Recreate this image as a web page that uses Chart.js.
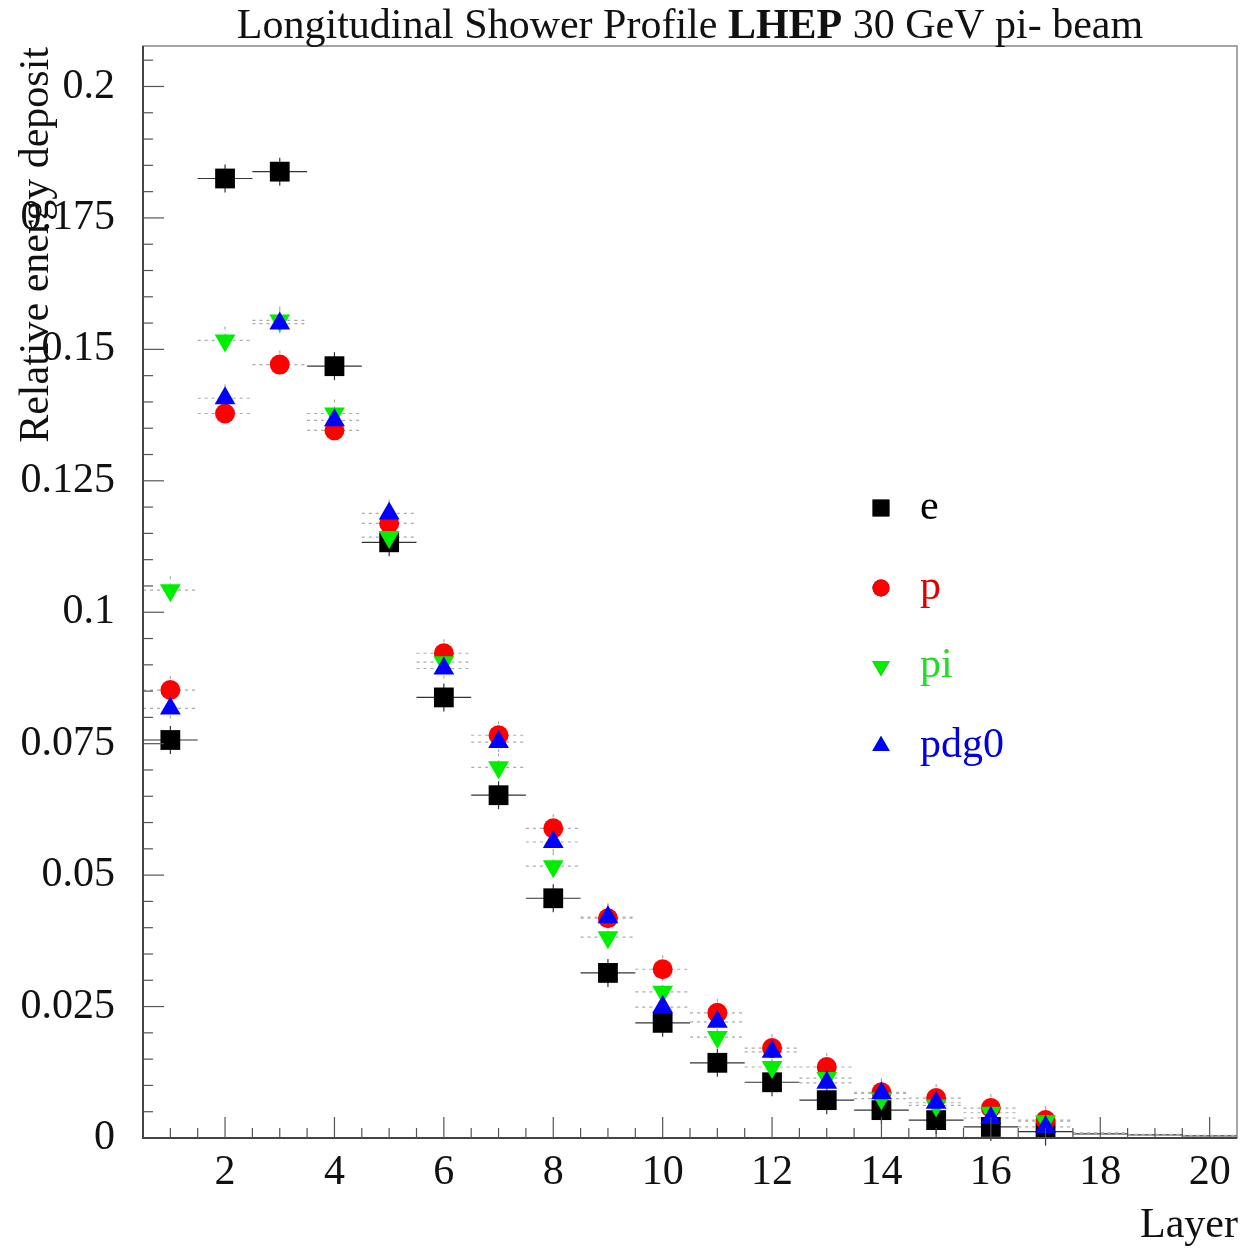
<!DOCTYPE html>
<html>
<head>
<meta charset="utf-8">
<script src="https://cdn.jsdelivr.net/npm/chart.js@4.4.0/dist/chart.umd.min.js"></script>
<style>
    html, body { margin: 0; padding: 0; background: #fff; }
    canvas { display: block; }
</style>
</head>
<body>
<canvas id="showerChart" width="1243" height="1251" style="width:1243px;height:1251px"></canvas>
<script>
// Data
const layers = [1, 2, 3, 4, 5, 6, 7, 8, 9, 10, 11, 12, 13, 14, 15, 16, 17, 18, 19, 20];
const eVals = [0.0757, 0.1825, 0.1838, 0.1468, 0.1133, 0.0838, 0.0652, 0.0456, 0.0314, 0.0219,
               0.0143, 0.0106, 0.0072, 0.0053, 0.0034, 0.0021, 0.0012, 0.0008, 0.0006, 0.0004];
const pVals = [0.0852, 0.1378, 0.1471, 0.1346, 0.1169, 0.0922, 0.0766, 0.0589, 0.0418, 0.0321,
               0.0238, 0.0171, 0.0135, 0.0087, 0.0076, 0.0057, 0.0034, 0.0010, 0.0007, 0.0005];
const piVals = [0.1042, 0.1517, 0.1555, 0.1378, 0.1143, 0.0905, 0.0705, 0.0517, 0.0382, 0.0278,
                0.0192, 0.0135, 0.0114, 0.0075, 0.0062, 0.0048, 0.0032, 0.0009, 0.0006, 0.0004];
const pdg0Vals = [0.0817, 0.1407, 0.1549, 0.1365, 0.1188, 0.0893, 0.0753, 0.0563, 0.0420, 0.0249,
                  0.0221, 0.0164, 0.0105, 0.0085, 0.0067, 0.0038, 0.0021, 0.0009, 0.0006, 0.0004];
const seriesNames = ['e', 'p', 'pi', 'pdg0'];
const yTicks = [0, 0.025, 0.05, 0.075, 0.1, 0.125, 0.15, 0.175, 0.2];
const xTicks = [2, 4, 6, 8, 10, 12, 14, 16, 18, 20];
const titleParts = ['Longitudinal Shower Profile ', 'LHEP', ' 30 GeV pi- beam'];
const xTitle = 'Layer';
const yTitle = 'Relative energy deposit';

const FONT = '"Liberation Serif", "DejaVu Serif", serif';
const lastMarkedLayer = 17;

function toPoints(vals) {
    return layers.map((l, i) => ({ x: l, y: vals[i] }));
}

function markerSize(r) {
    return ctx => (layers[ctx.dataIndex] > lastMarkedLayer ? 0 : r);
}

const styles = [
    { color: '#000000', text: '#000000', shape: 'rect', r: 14, rot: 0, bar: '#333333', dash: [] },
    { color: '#ff0000', text: '#e00000', shape: 'circle', r: 10, rot: 0, bar: '#aaaaaa', dash: [3, 4] },
    { color: '#00ee00', text: '#22dd22', shape: 'triangle', r: 12, rot: 180, bar: '#aaaaaa', dash: [3, 4] },
    { color: '#0000ff', text: '#0000dd', shape: 'triangle', r: 12, rot: 0, bar: '#aaaaaa', dash: [3, 4] }
];

const allVals = [eVals, pVals, piVals, pdg0Vals];

const datasets = allVals.map((vals, i) => ({
    label: seriesNames[i],
    data: toPoints(vals),
    pointStyle: styles[i].shape,
    pointRotation: styles[i].rot,
    pointRadius: markerSize(styles[i].r),
    pointHoverRadius: markerSize(styles[i].r),
    backgroundColor: styles[i].color,
    borderColor: styles[i].color,
    borderWidth: 0,
    showLine: false,
    order: 4 - i
}));

// Horizontal bin-width bars and small vertical error ticks
const errorBarPlugin = {
    id: 'errorBars',
    beforeDatasetsDraw(chart) {
        const ctx = chart.ctx;
        const xs = chart.scales.x, ys = chart.scales.y;
        ctx.save();
        allVals.forEach((vals, s) => {
            ctx.strokeStyle = styles[s].bar;
            ctx.lineWidth = 1.2;
            ctx.setLineDash(styles[s].dash);
            vals.forEach((v, i) => {
                const y = ys.getPixelForValue(v);
                const x1 = xs.getPixelForValue(layers[i] - 0.5);
                const x2 = xs.getPixelForValue(layers[i] + 0.5);
                ctx.beginPath();
                ctx.moveTo(x1, y);
                ctx.lineTo(x2, y);
                ctx.stroke();
                if (layers[i] <= lastMarkedLayer) {
                    const xc = xs.getPixelForValue(layers[i]);
                    ctx.beginPath();
                    ctx.moveTo(xc, y - 14);
                    ctx.lineTo(xc, y + 14);
                    ctx.stroke();
                }
            });
        });
        ctx.restore();
    }
};

// Frame, inner ticks, titles and legend
const framePlugin = {
    id: 'frame',
    afterDraw(chart) {
        const ctx = chart.ctx;
        const a = chart.chartArea;
        const xs = chart.scales.x, ys = chart.scales.y;
        ctx.save();
        ctx.setLineDash([]);
        ctx.strokeStyle = '#888888';
        ctx.lineWidth = 1.5;
        ctx.strokeRect(a.left, a.top, a.right - a.left, a.bottom - a.top);
        ctx.strokeStyle = '#444444';
        ctx.lineWidth = 2;
        ctx.beginPath();
        ctx.moveTo(a.left, a.top);
        ctx.lineTo(a.left, a.bottom);
        ctx.lineTo(a.right, a.bottom);
        ctx.stroke();

        // y ticks every 0.005, long every 0.025
        ctx.lineWidth = 1.2;
        ctx.strokeStyle = '#555555';
        for (let k = 1; k * 0.005 <= ys.max; k++) {
            const y = ys.getPixelForValue(k * 0.005);
            const len = k % 5 === 0 ? 21 : 10;
            ctx.beginPath();
            ctx.moveTo(a.left, y);
            ctx.lineTo(a.left + len, y);
            ctx.stroke();
        }
        // x ticks every 0.5, long at even integers
        for (let k = 2; k * 0.5 < xs.max; k++) {
            const v = k * 0.5;
            const x = xs.getPixelForValue(v);
            const len = v % 2 === 0 ? 21 : 10;
            ctx.beginPath();
            ctx.moveTo(x, a.bottom);
            ctx.lineTo(x, a.bottom - len);
            ctx.stroke();
        }

        // title with bold "LHEP"
        ctx.fillStyle = '#111111';
        ctx.textBaseline = 'middle';
        ctx.textAlign = 'left';
        const fonts = ['42px ' + FONT, 'bold 42px ' + FONT, '42px ' + FONT];
        let total = 0;
        titleParts.forEach((t, i) => { ctx.font = fonts[i]; total += ctx.measureText(t).width; });
        let tx = 690 - total / 2;
        titleParts.forEach((t, i) => {
            ctx.font = fonts[i];
            ctx.fillText(t, tx, 27);
            tx += ctx.measureText(t).width;
        });

        ctx.font = '42px ' + FONT;
        ctx.textAlign = 'right';
        ctx.fillText(xTitle, 1238, 1226);

        ctx.save();
        ctx.translate(37, 47);
        ctx.rotate(-Math.PI / 2);
        ctx.textAlign = 'right';
        ctx.fillText(yTitle, 0, 0);
        ctx.restore();

        // legend
        const legendY = [508, 588, 666, 746];
        seriesNames.forEach((name, i) => {
            const st = styles[i];
            const y = legendY[i];
            Chart.helpers.drawPoint(ctx, {
                pointStyle: st.shape, rotation: st.rot, radius: st.r * 0.85, borderWidth: 0
            }, 881, y);
            ctx.fillStyle = st.color;
            ctx.fill();
            ctx.fillStyle = st.text;
            ctx.textAlign = 'left';
            ctx.fillText(name, 920, y);
        });
        ctx.restore();
    }
};

new Chart(document.getElementById('showerChart'), {
    type: 'scatter',
    data: { datasets },
    options: {
        responsive: false,
        animation: false,
        devicePixelRatio: 1,
        layout: { autoPadding: false, padding: { top: 46, right: 6, left: 0, bottom: 0 } },
        plugins: {
            legend: { display: false },
            title: { display: false },
            tooltip: { enabled: false }
        },
        scales: {
            x: {
                type: 'linear',
                min: 0.5,
                max: 20.5,
                afterFit(scale) {
                    scale.height = 113;
                    scale.paddingLeft = 0;
                    scale.paddingRight = 0;
                },
                afterBuildTicks(scale) { scale.ticks = xTicks.map(v => ({ value: v })); },
                grid: { display: false, drawTicks: false },
                border: { display: false },
                ticks: {
                    padding: 10,
                    color: '#111111',
                    font: { family: FONT, size: 42 },
                    maxRotation: 0,
                    callback: v => String(v)
                }
            },
            y: {
                type: 'linear',
                min: 0,
                max: 0.2077,
                afterFit(scale) {
                    scale.width = 143;
                    scale.paddingTop = 0;
                    scale.paddingBottom = 0;
                },
                afterBuildTicks(scale) { scale.ticks = yTicks.map(v => ({ value: v })); },
                grid: { display: false, drawTicks: false },
                border: { display: false },
                ticks: {
                    padding: 28,
                    color: '#111111',
                    font: { family: FONT, size: 42 },
                    callback: v => String(Math.round(v * 1000) / 1000)
                }
            }
        }
    },
    plugins: [errorBarPlugin, framePlugin]
});
</script>
</body>
</html>
